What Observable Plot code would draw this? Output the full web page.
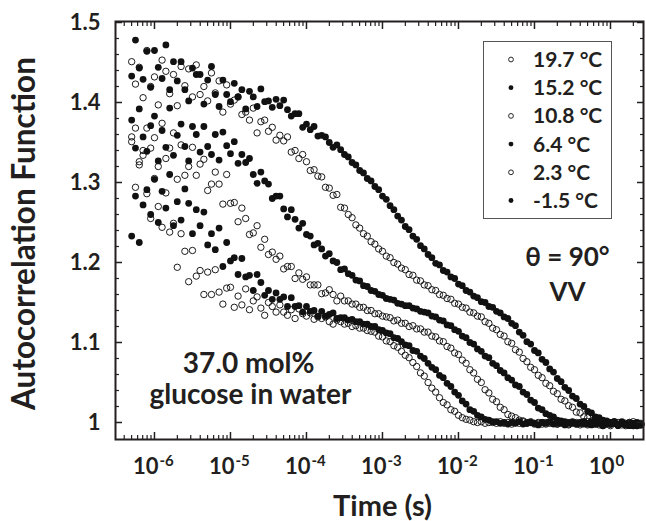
<!DOCTYPE html>
<html>
<head>
<meta charset="utf-8">
<script src="https://cdn.jsdelivr.net/npm/d3@7"></script>
<script src="https://cdn.jsdelivr.net/npm/@observablehq/plot@0.6"></script>
<style>
  html, body { margin: 0; padding: 0; background: #fff; }
  #chart { width: 646px; height: 521px; }
</style>
</head>
<body>
<div id="chart"></div>
<script>
// Correlator lag times, log10 of seconds
const lagLog10 = [
  -6.30,-6.25,-6.20,-6.15,-6.10,-6.05,-6.00,-5.95,-5.90,-5.85,
  -5.80,-5.75,-5.70,-5.65,-5.60,-5.55,-5.50,-5.45,-5.40,-5.35,
  -5.30,-5.25,-5.20,-5.15,-5.10,-5.05,-5.00,-4.95,-4.90,-4.85,
  -4.80,-4.75,-4.70,-4.65,-4.60,-4.55,-4.50,-4.45,-4.40,-4.35,
  -4.30,-4.25,-4.20,-4.15,-4.10,-4.05,-4.00,-3.95,-3.90,-3.85,
  -3.80,-3.75,-3.70,-3.65,-3.60,-3.55,-3.50,-3.45,-3.40,-3.35,
  -3.30,-3.25,-3.20,-3.15,-3.10,-3.05,-3.00,-2.95,-2.90,-2.85,
  -2.80,-2.75,-2.70,-2.65,-2.60,-2.55,-2.50,-2.45,-2.40,-2.35,
  -2.30,-2.25,-2.20,-2.15,-2.10,-2.05,-2.00,-1.95,-1.90,-1.85,
  -1.80,-1.75,-1.70,-1.65,-1.60,-1.55,-1.50,-1.45,-1.40,-1.35,
  -1.30,-1.25,-1.20,-1.15,-1.10,-1.05,-1.00,-0.95,-0.90,-0.85,
  -0.80,-0.75,-0.70,-0.65,-0.60,-0.55,-0.50,-0.45,-0.40,-0.35,
  -0.30,-0.25,-0.20,-0.15,-0.10,-0.05,0.00,0.05,0.10,0.15,
  0.20,0.25,0.30,0.35,0.40
];

// Intensity autocorrelation g2(t) at each temperature
const g2_19_7 = [
  1.351,1.294,1.326,1.34,1.286,1.255,1.305,1.27,1.244,1.287,
  1.238,1.249,1.194,1.236,1.214,1.176,1.215,1.183,1.19,1.16,
  1.188,1.16,1.191,1.163,1.148,1.168,1.169,1.144,1.158,1.147,
  1.167,1.141,1.152,1.157,1.143,1.134,1.15,1.145,1.138,1.147,
  1.138,1.134,1.141,1.13,1.142,1.136,1.133,1.137,1.129,1.132,
  1.13,1.132,1.126,1.123,1.128,1.126,1.123,1.124,1.12,1.121,
  1.118,1.118,1.115,1.114,1.113,1.108,1.107,1.102,1.101,1.096,
  1.094,1.089,1.084,1.081,1.075,1.07,1.062,1.058,1.05,1.043,
  1.038,1.031,1.025,1.022,1.016,1.014,1.009,1.006,1.004,1.003,
  1.001,1.0,1.001,0.999,1.0,1.0,0.999,1.001,0.999,1.0,
  0.998,1.0,0.999,1.001,0.999,1.0,0.998,0.999,1.0,0.998,
  1.0,0.999,0.998,1.0,0.999,0.997,1.0,0.998,0.999,1.001,
  0.997,0.999,0.998,1.0,0.996,0.999,0.998,1.001,0.997,0.999,
  0.996,1.0,0.998,0.997,0.999
];
const g2_15_2 = [
  1.233,1.283,1.225,1.272,1.291,1.26,1.304,1.25,1.289,1.268,
  1.31,1.246,1.276,1.253,1.292,1.274,1.236,1.266,1.246,1.263,
  1.222,1.236,1.216,1.243,1.195,1.225,1.202,1.206,1.185,1.205,
  1.182,1.184,1.165,1.185,1.175,1.159,1.165,1.154,1.162,1.154,
  1.157,1.145,1.156,1.145,1.146,1.138,1.145,1.139,1.14,1.133,
  1.139,1.133,1.135,1.137,1.13,1.131,1.131,1.128,1.129,1.126,
  1.126,1.123,1.123,1.12,1.12,1.116,1.115,1.112,1.111,1.106,
  1.105,1.101,1.097,1.096,1.09,1.089,1.083,1.08,1.074,1.069,
  1.066,1.059,1.056,1.049,1.045,1.038,1.034,1.027,1.023,1.016,
  1.014,1.009,1.007,1.004,1.003,1.001,1.001,0.999,1.0,0.998,
  1.0,0.999,1.001,0.998,0.999,1.0,0.999,0.997,1.0,0.999,
  1.001,0.998,0.999,1.0,0.997,0.999,1.0,0.998,0.999,1.001,
  0.998,0.997,1.0,0.999,0.996,0.998,1.0,0.999,0.997,1.001,
  0.998,0.996,0.999,1.0,0.997
];
const g2_10_8 = [
  1.357,1.368,1.322,1.334,1.368,1.343,1.356,1.32,1.374,1.33,
  1.343,1.362,1.304,1.347,1.309,1.32,1.344,1.309,1.323,1.329,
  1.29,1.298,1.313,1.298,1.273,1.31,1.274,1.275,1.251,1.268,
  1.255,1.235,1.237,1.246,1.219,1.229,1.21,1.213,1.204,1.208,
  1.192,1.195,1.195,1.18,1.187,1.179,1.182,1.172,1.172,1.172,
  1.161,1.162,1.166,1.16,1.152,1.158,1.152,1.152,1.148,1.148,
  1.144,1.144,1.14,1.14,1.136,1.136,1.133,1.132,1.131,1.127,
  1.128,1.124,1.124,1.12,1.121,1.117,1.117,1.113,1.113,1.108,
  1.107,1.102,1.101,1.095,1.093,1.087,1.085,1.078,1.074,1.066,
  1.062,1.054,1.05,1.041,1.037,1.029,1.026,1.019,1.016,1.01,
  1.008,1.006,1.003,1.002,1.0,1.001,0.999,1.0,0.998,1.0,
  0.999,1.001,0.998,0.999,1.0,0.998,0.999,1.0,0.997,0.999,
  1.001,0.998,0.999,0.997,1.0,0.998,0.996,0.999,1.0,0.997,
  0.999,0.998,1.001,0.996,0.998
];
const g2_6_4 = [
  1.378,1.343,1.392,1.357,1.339,1.371,1.383,1.327,1.365,1.344,
  1.393,1.334,1.359,1.373,1.345,1.327,1.37,1.36,1.338,1.37,
  1.345,1.335,1.36,1.328,1.363,1.346,1.336,1.351,1.324,1.335,
  1.325,1.33,1.31,1.299,1.313,1.302,1.298,1.28,1.283,1.283,
  1.267,1.257,1.266,1.254,1.243,1.249,1.235,1.233,1.222,1.224,
  1.217,1.208,1.211,1.202,1.2,1.191,1.192,1.186,1.184,1.178,
  1.177,1.171,1.17,1.165,1.164,1.16,1.159,1.155,1.154,1.153,
  1.149,1.148,1.146,1.146,1.143,1.142,1.139,1.138,1.137,1.133,
  1.132,1.128,1.127,1.122,1.121,1.116,1.114,1.108,1.106,1.1,
  1.098,1.092,1.089,1.083,1.081,1.074,1.071,1.065,1.062,1.056,
  1.053,1.047,1.045,1.038,1.035,1.028,1.025,1.018,1.016,1.011,
  1.009,1.007,1.003,1.002,1.001,1.0,1.001,0.999,1.0,0.998,
  0.999,1.001,0.998,0.999,0.997,1.0,0.998,0.999,0.996,1.0,
  0.998,0.997,0.999,0.996,0.998
];
const g2_2_3 = [
  1.451,1.423,1.444,1.406,1.465,1.42,1.432,1.397,1.453,1.439,
  1.411,1.435,1.396,1.445,1.421,1.442,1.407,1.447,1.41,1.42,
  1.402,1.437,1.412,1.427,1.388,1.422,1.398,1.403,1.407,1.385,
  1.388,1.378,1.393,1.362,1.376,1.378,1.364,1.369,1.353,1.359,
  1.352,1.357,1.338,1.34,1.33,1.335,1.326,1.315,1.316,1.308,
  1.307,1.294,1.293,1.284,1.285,1.269,1.268,1.26,1.256,1.247,
  1.243,1.236,1.233,1.226,1.223,1.217,1.214,1.208,1.206,1.2,
  1.198,1.193,1.191,1.185,1.184,1.178,1.177,1.172,1.171,1.166,
  1.165,1.16,1.159,1.155,1.154,1.149,1.148,1.144,1.143,1.138,
  1.137,1.133,1.132,1.126,1.124,1.118,1.116,1.11,1.108,1.101,
  1.099,1.091,1.088,1.08,1.076,1.069,1.066,1.059,1.056,1.049,
  1.046,1.039,1.036,1.029,1.027,1.021,1.019,1.013,1.012,1.007,
  1.006,1.002,1.002,1.0,1.001,0.999,0.998,1.0,0.997,0.999,
  0.998,1.0,0.996,0.998,0.997
];
const g2_m1_5 = [
  1.433,1.478,1.443,1.429,1.464,1.419,1.465,1.444,1.43,1.472,
  1.416,1.451,1.427,1.451,1.416,1.402,1.443,1.435,1.435,1.398,
  1.428,1.445,1.41,1.395,1.428,1.41,1.401,1.424,1.407,1.416,
  1.392,1.414,1.407,1.395,1.417,1.401,1.402,1.394,1.404,1.396,
  1.403,1.391,1.383,1.386,1.386,1.369,1.373,1.366,1.37,1.358,
  1.359,1.357,1.35,1.344,1.347,1.341,1.335,1.332,1.325,1.322,
  1.315,1.312,1.305,1.302,1.295,1.291,1.283,1.279,1.271,1.266,
  1.258,1.253,1.245,1.241,1.233,1.229,1.221,1.217,1.21,1.206,
  1.199,1.197,1.19,1.188,1.182,1.18,1.173,1.171,1.165,1.163,
  1.158,1.156,1.151,1.15,1.145,1.144,1.139,1.137,1.132,1.13,
  1.124,1.121,1.113,1.109,1.101,1.098,1.09,1.087,1.079,1.075,
  1.067,1.063,1.055,1.051,1.044,1.04,1.033,1.03,1.023,1.02,
  1.014,1.012,1.007,1.006,1.003,1.002,1.0,1.001,0.998,0.999,
  0.997,0.999,0.996,0.998,0.997
];

const temperatureLabels = ["19.7 °C", "15.2 °C", "10.8 °C", "6.4 °C", "2.3 °C", "-1.5 °C"];
const openSymbol = [true, false, true, false, true, false];
const seriesValues = [g2_19_7, g2_15_2, g2_10_8, g2_6_4, g2_2_3, g2_m1_5];

const xTicks = [1e-6, 1e-5, 1e-4, 1e-3, 1e-2, 1e-1, 1];
const xTickExponents = ["-6", "-5", "-4", "-3", "-2", "-1", "0"];
const yTicks = [1, 1.1, 1.2, 1.3, 1.4, 1.5];
const yTickLabels = ["1", "1.1", "1.2", "1.3", "1.4", "1.5"];

const xDomain = [3.07e-7, 2.72];
const yDomain = [0.97875, 1.50125];

// minor ticks: 2..9 per decade on x, every 0.02 on y
const xMinor = [];
for (let p = -7; p <= 0; p++) {
  for (let m = 2; m <= 9; m++) {
    const v = m * Math.pow(10, p);
    if (v > xDomain[0] && v < xDomain[1]) xMinor.push(v);
  }
}
const yMinor = [];
for (let k = 102; k < 150; k += 2) if (k % 10 !== 0) yMinor.push(k / 100);

const ink = "#231f20";
const font = "Lato, 'Open Sans', 'DejaVu Sans', sans-serif";

const series = seriesValues.map((vals, s) => ({
  label: temperatureLabels[s],
  open: openSymbol[s],
  data: vals.map((g, i) => ({t: Math.pow(10, lagLog10[i]), g}))
}));

const dotMarks = series.map(s => Plot.dot(s.data, {
  x: "t", y: "g",
  r: s.open ? 3.2 : 3.4,
  fill: s.open ? "none" : "#111",
  stroke: s.open ? "#111" : "none",
  strokeWidth: 0.95
}));

const noText = () => "";
const tickMarks = [
  Plot.axisX(xTicks, {anchor: "bottom", tickSize: -7, tickFormat: noText, strokeWidth: 1.5, stroke: ink}),
  Plot.axisX(xMinor, {anchor: "bottom", tickSize: -4, tickFormat: noText, strokeWidth: 1.2, stroke: ink}),
  Plot.axisX(xTicks, {anchor: "top", tickSize: -7, tickFormat: noText, strokeWidth: 1.5, stroke: ink}),
  Plot.axisX(xMinor, {anchor: "top", tickSize: -4, tickFormat: noText, strokeWidth: 1.2, stroke: ink}),
  Plot.axisY(yTicks, {anchor: "left", tickSize: -7, tickFormat: noText, strokeWidth: 1.5, stroke: ink}),
  Plot.axisY(yMinor, {anchor: "left", tickSize: -4, tickFormat: noText, strokeWidth: 1.2, stroke: ink}),
  Plot.axisY(yTicks, {anchor: "right", tickSize: -7, tickFormat: noText, strokeWidth: 1.5, stroke: ink}),
  Plot.axisY(yMinor, {anchor: "right", tickSize: -4, tickFormat: noText, strokeWidth: 1.2, stroke: ink})
];

const labelMarks = [
  Plot.text(xTicks, {x: d => d, text: () => "10", frameAnchor: "bottom", textAnchor: "end", lineAnchor: "middle", dx: 4, dy: 27, fontSize: 22, fill: ink}),
  Plot.text(xTicks, {x: d => d, text: (d, i) => xTickExponents[i], frameAnchor: "bottom", textAnchor: "start", lineAnchor: "middle", dx: 5, dy: 22, fontSize: 15, fill: ink}),
  Plot.text(yTicks, {y: d => d, text: (d, i) => yTickLabels[i], frameAnchor: "left", textAnchor: "end", lineAnchor: "middle", dx: -15, fontSize: 22, fill: ink}),
  Plot.text(["Time (s)"], {frameAnchor: "bottom", textAnchor: "middle", lineAnchor: "middle", dx: 3, dy: 67, fontSize: 29, fill: ink}),
  Plot.text(["Autocorrelation Function"], {frameAnchor: "left", textAnchor: "middle", lineAnchor: "middle", rotate: -90, dx: -91, dy: 3, fontSize: 31.5, fill: ink}),
  Plot.text(["θ = 90°"], {x: 0.272, y: 1.206, fontSize: 26, fill: ink}),
  Plot.text(["VV"], {x: 0.272, y: 1.1625, fontSize: 26, fill: ink}),
  Plot.text(["37.0 mol%"], {x: 1.73e-5, y: 1.0725, fontSize: 28, fill: ink}),
  Plot.text(["glucose in water"], {x: 1.83e-5, y: 1.034, fontSize: 28, fill: ink})
];

const chart = Plot.plot({
  width: 646,
  height: 521,
  marginLeft: 115,
  marginRight: 3,
  marginTop: 21,
  marginBottom: 82,
  style: {fontFamily: font, fontWeight: "bold", background: "#fff", color: ink},
  x: {type: "log", domain: xDomain, label: null},
  y: {domain: yDomain, label: null},
  marks: [
    ...dotMarks,
    ...tickMarks,
    Plot.frame({stroke: ink, strokeWidth: 2}),
    ...labelMarks
  ]
});

// legend box in the upper right of the frame
const legend = d3.select(chart).append("g")
  .attr("font-family", font)
  .attr("font-weight", "bold")
  .attr("font-size", 21)
  .attr("text-anchor", "start")
  .attr("fill", ink);
legend.append("rect")
  .attr("x", 483.5).attr("y", 41.5)
  .attr("width", 128).attr("height", 177)
  .attr("fill", "#fff").attr("stroke", "#555").attr("stroke-width", 1);
series.forEach((s, i) => {
  const cy = 59.5 + i * 28.2;
  legend.append("circle")
    .attr("cx", 511).attr("cy", cy).attr("r", 2.4)
    .attr("fill", s.open ? "#fff" : "#111")
    .attr("stroke", "#111").attr("stroke-width", s.open ? 0.9 : 0);
  legend.append("text")
    .attr("x", 533).attr("y", cy + 7.5)
    .attr("text-anchor", "start")
    .text(s.label);
});

document.getElementById("chart").appendChild(chart);
</script>
</body>
</html>
